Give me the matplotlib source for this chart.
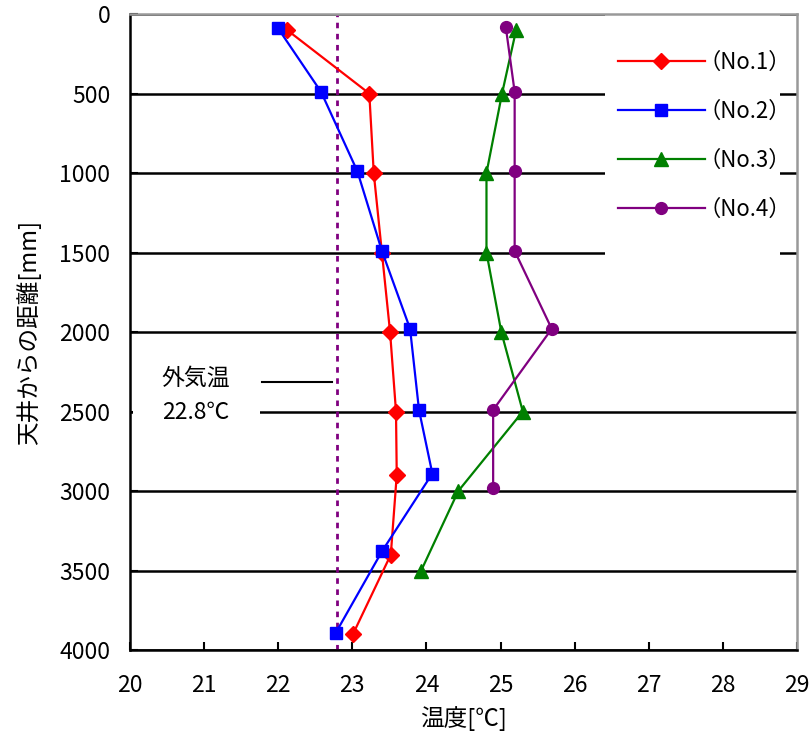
import matplotlib
matplotlib.use("Agg")
import matplotlib.pyplot as plt
from matplotlib.patches import Rectangle

plt.rcParams['font.family'] = ['Noto Sans CJK JP', 'DejaVu Sans']

# 測定データ（温度[℃], 天井からの距離[mm]）
temp_no1 = [22.12, 23.23, 23.29, 23.40, 23.51, 23.59, 23.60, 23.52, 23.01]
dist_no1 = [100, 500, 1000, 1500, 2000, 2500, 2900, 3400, 3900]

temp_no2 = [22.00, 22.58, 23.07, 23.40, 23.78, 23.90, 24.08, 23.40, 22.78]
dist_no2 = [90, 490, 990, 1490, 1980, 2490, 2890, 3380, 3890]

temp_no3 = [25.21, 25.02, 24.81, 24.81, 25.01, 25.30, 24.43, 23.93]
dist_no3 = [100, 500, 1000, 1500, 2000, 2500, 3000, 3500]

temp_no4 = [25.07, 25.19, 25.19, 25.19, 25.69, 24.90, 24.90]
dist_no4 = [80, 490, 990, 1490, 1980, 2490, 2980]

outdoor_temp = 22.8
labels = ["（No.1）", "（No.2）", "（No.3）", "（No.4）"]
x_ticks = list(range(20, 30))
y_ticks = list(range(0, 4001, 500))

fig = plt.figure(figsize=(8.11, 7.34), dpi=100)
ax = fig.add_axes([0.160, 0.1144, 0.823, 0.8665])

ax.plot(temp_no1, dist_no1, color="#FF0000", marker="D", markersize=8, lw=1.6, label=labels[0], zorder=3)
ax.plot(temp_no2, dist_no2, color="#0000FF", marker="s", markersize=9, lw=1.6, label=labels[1], zorder=3)
ax.plot(temp_no3, dist_no3, color="#008000", marker="^", markersize=10, lw=1.6, label=labels[2], zorder=3)
ax.plot(temp_no4, dist_no4, color="#800080", marker="o", markersize=8.5, lw=1.6, label=labels[3], zorder=3)

# 外気温
ax.axvline(outdoor_temp, color="#800080", lw=2, linestyle=(0, (2, 2)), zorder=2)

ax.set_xlim(20, 29)
ax.set_ylim(4000, 0)
ax.set_xticks(x_ticks)
ax.set_yticks(y_ticks)
ax.tick_params(axis="both", direction="in", labelsize=16.5, length=6, width=1.5)
ax.tick_params(axis="x", pad=17)
ax.tick_params(axis="y", pad=14)

ax.grid(axis="y", color="black", lw=1.8)
ax.set_axisbelow(True)

for s in ["left", "bottom"]:
    ax.spines[s].set_color("black")
    ax.spines[s].set_linewidth(1.8)
for s in ["top", "right"]:
    ax.spines[s].set_color("#999999")
    ax.spines[s].set_linewidth(1.8)

ax.set_xlabel("温度[℃]", fontsize=17, labelpad=7)
ax.set_ylabel("天井からの距離[mm]", fontsize=17, labelpad=13)

# 凡例の白背景
ax.add_patch(Rectangle((0.712, 0.58), 0.262, 0.42, transform=ax.transAxes,
                       facecolor="white", edgecolor="none", zorder=1.6))
ax.legend(loc="upper left", bbox_to_anchor=(0.7316, 0.942), frameon=False,
          borderpad=0, borderaxespad=0, fontsize=16, handlelength=3.9,
          labelspacing=1.17, handletextpad=-0.3)

# 外気温の注記
ax.add_patch(Rectangle((20.04, 2170), 1.71, 470, facecolor="white",
                       edgecolor="none", zorder=1.6))
ax.text(20.89, 2290, "外気温", fontsize=16.5, ha="center", va="center", zorder=4)
ax.text(20.89, 2505, "22.8℃", fontsize=16.5, ha="center", va="center", zorder=4)
ax.plot([21.78, 22.73], [2314, 2314], color="black", lw=1.5, zorder=2)

fig.savefig("out.png", dpi=100)
